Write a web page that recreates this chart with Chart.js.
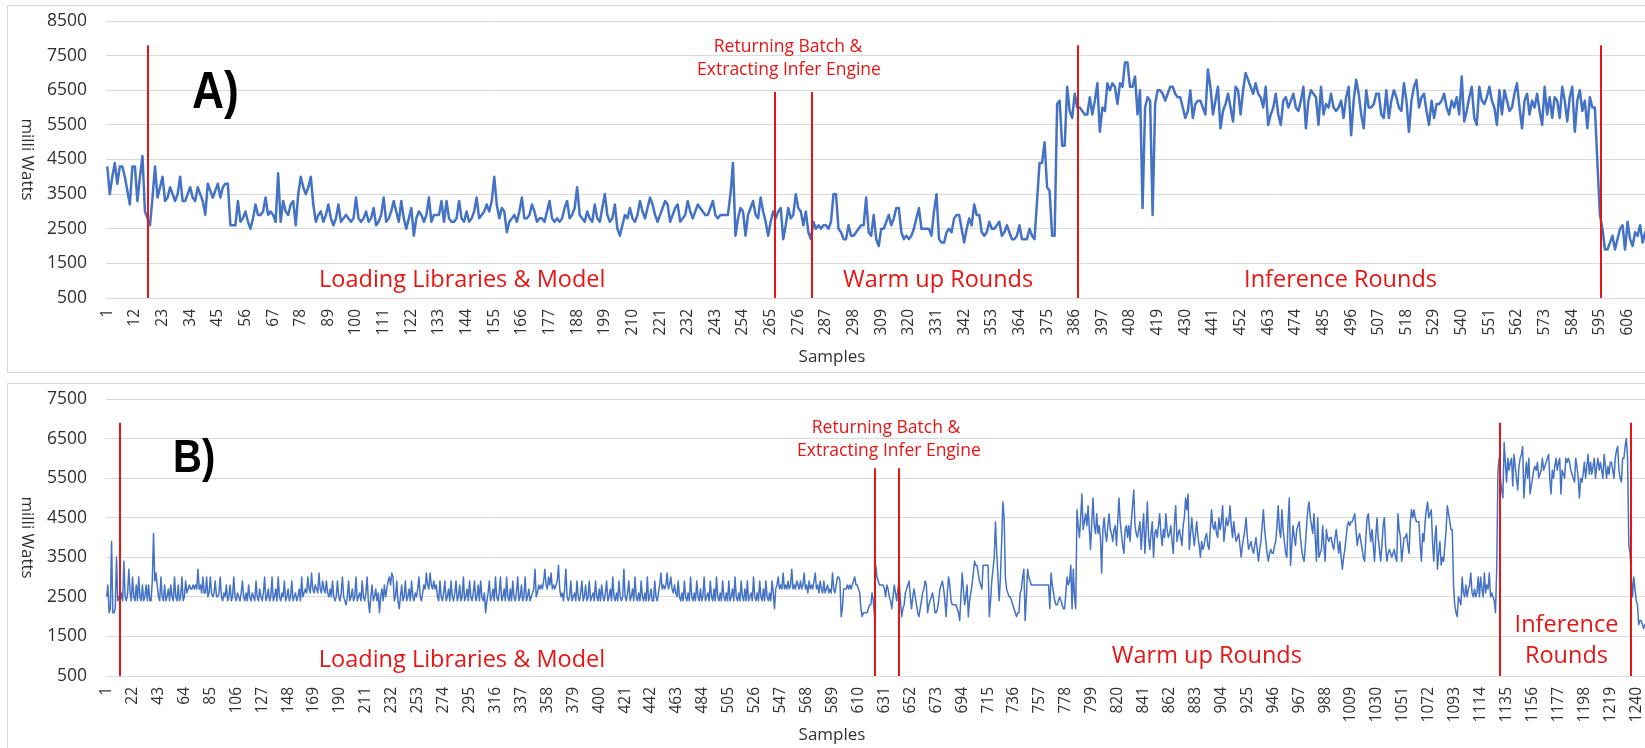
<!DOCTYPE html>
<html>
<head>
<meta charset="utf-8">
<title>Power draw per sample</title>
<script src="https://cdn.jsdelivr.net/npm/chart.js@4.4.1/dist/chart.umd.min.js"></script>
<style>
  html, body { margin: 0; padding: 0; background: #fff; overflow: hidden; }
  body { width: 1645px; height: 748px; position: relative; }
  .panel { position: absolute; left: 7px; width: 1720px; height: 366px; border: 1px solid #d9d9d9; background: #fff; }
  #panelA { top: 5px; }
  #panelB { top: 383px; }
  canvas { display: block; }
</style>
</head>
<body>
<div class="panel" id="panelA"><canvas id="chartA" width="1720" height="366"></canvas></div>
<div class="panel" id="panelB"><canvas id="chartB" width="1720" height="366"></canvas></div>
<script>
// readings in units of 100 mW, one value per sample
const powerA = [
  43,35,40,44,38,43,43,40,36,32,43,43,33,40,46,30,28,26,34,43,
  34,37,40,33,34,37,35,33,35,40,33,33,35,37,34,33,37,35,33,29,
  38,36,34,36,38,34,37,38,38,26,26,26,33,27,28,30,27,25,28,32,
  29,29,30,34,29,30,29,27,41,27,33,30,29,32,33,26,35,40,37,35,
  37,40,32,27,29,30,27,29,32,28,26,28,32,27,28,29,28,27,28,34,
  28,27,28,30,27,28,31,26,27,29,34,27,28,30,33,30,27,33,28,25,
  28,31,23,28,30,29,27,29,34,27,29,29,29,33,27,33,28,27,27,28,
  33,28,27,30,27,28,30,34,28,29,30,32,30,33,40,32,28,31,30,24,
  27,28,29,27,30,34,28,28,29,32,30,27,28,28,27,30,33,28,27,28,
  27,28,31,33,28,29,31,37,29,28,27,30,28,27,32,28,27,31,35,29,
  27,28,32,25,23,26,29,28,31,28,27,29,33,30,28,31,34,32,29,27,
  29,31,33,32,27,29,31,32,27,28,29,33,30,28,30,32,31,30,29,29,
  31,33,29,28,29,29,29,29,35,44,23,28,31,30,23,29,31,33,29,28,
  34,30,27,23,27,30,28,30,31,22,26,31,28,29,35,31,30,26,30,24,
  22,27,25,26,25,26,26,25,27,35,35,25,24,22,22,26,23,23,24,25,
  26,26,34,24,23,29,22,20,25,25,27,29,26,28,31,31,24,22,23,22,
  23,25,28,31,25,25,25,25,23,30,35,22,21,21,24,25,24,28,29,29,
  25,21,25,28,26,32,29,29,24,23,24,27,25,25,26,27,23,24,26,24,
  22,22,23,26,22,22,22,25,23,22,33,44,44,50,37,36,23,23,61,62,
  49,49,66,59,57,64,60,60,59,58,58,63,58,62,67,53,60,59,67,65,
  67,66,61,67,66,73,73,66,66,69,58,65,31,60,63,62,29,61,65,65,
  64,62,64,66,66,64,63,63,60,57,59,65,57,61,62,62,60,58,71,66,
  58,62,66,54,59,61,64,60,56,66,65,58,65,70,68,66,64,67,64,63,
  60,66,55,58,60,64,58,55,62,63,60,62,64,60,59,62,66,54,62,65,
  64,63,55,66,58,61,60,64,60,59,60,62,57,63,66,52,62,68,64,58,
  54,65,60,60,61,64,64,58,57,65,57,62,65,63,60,59,67,62,53,62,
  66,68,60,63,64,59,55,62,57,61,61,62,64,60,58,62,60,63,58,69,
  56,59,63,66,57,55,66,62,61,63,66,62,60,55,65,58,65,62,59,60,
  64,67,60,54,62,64,58,62,60,64,59,55,66,58,63,57,63,62,57,66,
  62,56,63,66,53,62,65,59,62,54,63,60,60,44,29,25,19,19,21,23,
  19,22,25,26,19,27,22,20,24,23,26,21,24,22,25,21,24,22,20,23
];

const powerB = [
  25,28,21,22,39,21,21,22,35,24,25,24,26,24,34,25,24,26,32,26,
  24,30,25,24,28,24,30,25,24,28,24,25,28,24,28,24,24,29,41,29,
  31,28,25,24,30,25,24,28,24,25,27,24,28,25,24,30,25,24,28,24,
  25,30,24,25,29,26,27,28,27,27,28,27,28,27,32,27,28,26,30,26,
  26,30,25,26,30,26,25,26,29,25,25,26,30,25,24,26,25,28,24,25,
  28,24,25,30,25,24,26,25,24,26,29,25,24,26,24,28,25,24,26,25,
  24,29,25,24,27,25,24,26,30,24,25,27,24,25,30,24,25,27,24,30,
  25,24,26,25,29,24,25,27,24,25,29,24,25,26,24,25,27,24,30,25,
  26,27,26,30,27,26,31,27,26,28,27,26,31,27,26,29,27,26,29,26,
  25,27,25,29,25,24,25,29,25,24,26,30,25,24,23,25,29,24,25,27,
  24,25,30,24,25,26,24,29,25,24,26,30,24,21,25,28,24,25,27,24,
  26,21,25,27,24,28,25,27,29,30,28,31,30,24,25,29,24,22,25,28,
  24,25,29,24,25,27,24,29,25,24,26,25,27,30,25,24,26,28,27,31,
  28,27,31,28,27,29,27,28,25,24,29,25,24,26,29,24,25,27,24,29,
  25,24,26,29,24,25,28,24,25,30,24,25,27,24,29,25,24,26,29,24,
  25,28,24,29,25,24,26,21,24,26,29,24,25,27,24,30,25,24,26,30,
  24,25,27,24,30,25,24,27,24,29,25,24,26,30,24,25,28,24,25,30,
  24,25,27,24,25,26,27,32,25,26,28,27,28,27,29,32,28,27,30,28,
  31,27,28,27,28,29,33,27,25,26,24,27,32,25,24,25,29,24,25,26,
  24,29,25,24,26,29,24,25,28,24,25,29,24,25,26,24,29,25,24,27,
  24,28,25,24,26,29,24,25,27,24,30,25,24,26,24,29,25,24,25,32,
  25,24,26,29,24,25,27,24,30,25,24,26,24,29,25,24,26,24,30,24,
  25,27,24,24,29,25,24,26,28,31,27,28,27,28,31,27,28,30,27,26,
  28,26,25,29,25,24,26,24,29,25,24,26,24,30,25,24,26,24,29,25,
  24,27,24,25,30,24,25,26,24,29,25,24,27,24,30,25,24,26,24,29,
  25,24,26,24,29,24,25,27,24,30,25,24,26,24,29,25,24,27,24,29,
  24,25,26,24,30,25,24,26,24,29,25,24,27,24,29,25,24,26,24,29,
  26,22,27,28,30,27,28,27,31,27,28,27,29,27,28,32,27,28,27,29,
  28,27,29,27,28,31,27,28,26,29,27,28,27,29,31,27,28,26,29,27,
  26,29,26,27,28,26,27,26,31,27,26,28,30,30,29,20,22,27,27,27,
  28,27,28,27,28,29,30,28,28,27,26,22,20,21,21,21,21,22,23,23,
  26,24,20,33,30,29,28,28,28,28,27,25,28,27,25,24,22,25,28,26,
  24,27,29,24,20,22,23,26,27,28,29,25,22,25,27,25,23,21,20,22,
  24,26,27,29,28,21,23,24,25,26,24,21,21,22,24,27,28,29,27,24,
  20,26,30,28,24,23,23,23,23,22,21,19,25,31,27,23,25,28,20,24,
  26,28,31,34,33,33,31,29,28,27,33,33,33,33,33,20,24,29,32,35,
  44,36,30,24,30,39,49,45,30,27,26,25,25,24,23,22,21,20,21,21,
  26,27,30,32,19,25,32,30,29,28,28,28,28,28,28,28,28,28,28,28,
  28,28,28,28,22,31,28,26,24,23,23,24,25,24,23,22,22,26,30,28,
  29,33,22,32,25,22,47,43,40,45,51,42,44,46,43,48,42,37,44,50,
  43,41,46,41,43,40,31,42,45,41,39,43,46,42,41,39,42,43,38,44,
  50,44,41,38,36,42,43,40,43,39,44,48,52,43,41,40,42,44,37,42,
  46,36,42,49,40,37,41,44,35,41,42,40,43,46,41,38,42,40,46,42,
  40,41,43,39,36,44,48,39,41,42,40,38,43,45,50,47,51,37,41,45,
  41,38,41,44,40,38,35,39,37,38,40,41,38,37,42,47,43,42,44,41,
  40,45,42,44,48,39,42,45,43,44,48,43,40,44,41,39,40,41,38,35,
  38,40,42,45,40,37,38,39,37,36,38,40,37,34,37,39,43,47,42,39,
  36,34,36,37,36,36,38,39,43,48,42,40,47,42,39,36,35,44,50,33,
  38,43,40,38,42,43,44,40,37,35,34,38,43,47,49,45,43,41,46,40,
  34,45,35,36,37,43,38,34,42,40,39,40,40,38,37,40,42,39,36,39,
  35,32,35,37,40,43,44,43,44,44,45,46,42,38,40,41,39,37,35,34,
  40,45,46,42,39,42,38,34,40,45,40,37,34,38,43,45,38,34,36,37,
  36,35,36,37,35,34,46,42,40,34,37,40,40,41,38,36,44,47,45,47,
  45,44,44,44,38,34,41,39,44,47,49,45,46,47,39,34,40,43,32,36,
  39,33,35,34,38,42,48,46,44,42,42,28,23,21,20,25,24,23,30,26,
  25,28,25,27,28,31,26,25,27,25,26,30,25,30,27,25,31,26,28,27,
  31,25,26,25,24,21,32,57,60,55,52,50,64,59,54,60,57,59,60,53,
  61,58,55,52,58,60,61,63,50,55,59,55,60,51,53,55,57,58,57,59,
  55,56,57,60,57,58,59,60,61,55,51,57,55,58,60,57,59,60,51,57,
  56,55,60,59,60,59,57,56,55,54,60,58,55,50,55,54,56,59,55,58,
  61,56,59,56,58,60,55,58,60,57,59,57,55,61,58,55,58,56,59,59,
  57,55,60,62,63,57,55,54,60,60,63,65,60,38,36,30,25,30,27,24,
  23,18,19,19,18,17,18,17,18,17,17,18,17,17,18,17,18,17,17,18,
  17,18
];

// sample numbers on the category axis, label shown every n-th sample
const samplesA = powerA.map((_, i) => i + 1);
const samplesB = powerB.map((_, i) => i + 1);
const labelEveryA = 11;
const labelEveryB = 21;

// y axis ranges (mW)
const yMinA = 500, yMaxA = 8500;
const yMinB = 500, yMaxB = 7500;
const yStep = 1000;

// phase boundaries: sample position and where the red marker starts (mW)
const phaseAtA = [17.2, 266.7, 281.4, 387.3, 595.4];
const phaseTopA = [7800, 6450, 6450, 7800, 7800];
const phaseAtB = [11.9, 623.3, 642.8, 1129.6, 1235.5];
const phaseTopB = [6900, 5750, 5750, 6900, 6900];

const BLUE = '#4472c4';
const RED = '#e81515';
const GRID = '#d9d9d9';
const TEXT = '#303030';
const BIG = "23.5px 'Open Sans'";
const SMALL = "17.5px 'Open Sans'";
const Y_TITLE_LEN = 82;   // px length of the rotated y title

// text anchored at (sample, mW)
const notesA = [
  { text: 'A)', s: 34.7, v: 5987, font: "bold 51px 'Liberation Sans'", color: '#000', squeeze: 0.87 },
  { text: 'Loading Libraries & Model', s: 85.3, v: 818, font: BIG },
  { text: 'Returning Batch &', s: 271.9, v: 7605, font: SMALL, align: 'center' },
  { text: 'Extracting Infer Engine', s: 272.3, v: 6940, font: SMALL, align: 'center' },
  { text: 'Warm up Rounds', s: 293.8, v: 818, font: BIG },
  { text: 'Inference Rounds', s: 453.4, v: 818, font: BIG }
];
const notesB = [
  { text: 'B)', s: 54.8, v: 5661, font: "bold 46px 'Liberation Sans'", color: '#000', squeeze: 0.87 },
  { text: 'Loading Libraries & Model', s: 172.9, v: 728, font: BIG },
  { text: 'Returning Batch &', s: 632.3, v: 6647, font: SMALL, align: 'center' },
  { text: 'Extracting Infer Engine', s: 634.7, v: 6065, font: SMALL, align: 'center' },
  { text: 'Warm up Rounds', s: 815.2, v: 829, font: BIG },
  { text: 'Inference', s: 1183.5, v: 1613, font: BIG, align: 'center' },
  { text: 'Rounds', s: 1183.5, v: 829, font: BIG, align: 'center' }
];

Chart.defaults.font.family = "'Open Sans', sans-serif";
Chart.defaults.color = TEXT;

function phaseOverlay(lines, tops, notes) {
  return {
    id: 'phaseOverlay',
    afterDatasetsDraw(chart) {
      const { ctx, chartArea } = chart;
      const xs = chart.scales.x, ys = chart.scales.y;
      ctx.save();

      ctx.strokeStyle = RED;
      ctx.lineWidth = 2;
      lines.forEach((s, i) => {
        const px = Math.round(xs.getPixelForValue(s - 1));
        ctx.beginPath();
        ctx.moveTo(px, ys.getPixelForValue(tops[i]));
        ctx.lineTo(px, chartArea.bottom);
        ctx.stroke();
      });

      notes.forEach(n => {
        ctx.save();
        ctx.font = n.font;
        ctx.fillStyle = n.color || RED;
        ctx.textAlign = n.align || 'left';
        ctx.textBaseline = 'alphabetic';
        ctx.translate(xs.getPixelForValue(n.s - 1), ys.getPixelForValue(n.v));
        ctx.scale(n.squeeze || 1, 1);
        ctx.fillText(n.text, 0, 0);
        ctx.restore();
      });

      // axis titles (y title reads top to bottom, like the original)
      ctx.fillStyle = TEXT;
      ctx.textAlign = 'center';
      ctx.textBaseline = 'middle';
      ctx.font = "17px 'Open Sans'";
      ctx.fillText('Samples', 824, 351);
      ctx.translate(19, (chartArea.top + chartArea.bottom) / 2);
      ctx.rotate(Math.PI / 2);
      const w = ctx.measureText('milli Watts').width;
      ctx.scale(Y_TITLE_LEN / w, 1);
      ctx.fillText('milli Watts', 0, 0);
      ctx.restore();
    }
  };
}

function drawPanel(id, values, samples, every, yMin, yMax, width, overlay) {
  return new Chart(document.getElementById(id), {
    type: 'line',
    data: {
      labels: samples,
      datasets: [{
        data: values.map(v => v * 100),
        borderColor: BLUE,
        borderWidth: width,
        borderJoinStyle: 'round',
        pointRadius: 0,
        tension: 0,
        fill: false
      }]
    },
    options: {
      responsive: false,
      animation: false,
      events: [],
      layout: { padding: { top: 15, right: 64, bottom: 0, left: 0 } },
      plugins: { legend: { display: false }, tooltip: { enabled: false } },
      scales: {
        x: {
          type: 'category',
          offset: true,
          grid: { display: false, drawTicks: false },
          border: { display: false },
          ticks: {
            autoSkip: false,
            minRotation: 90,
            maxRotation: 90,
            padding: 11,
            color: TEXT,
            font: { size: 15.5 },
            callback: (v, i) => (i % every === 0 ? String(samples[i]) : '')
          },
          afterFit: axis => { axis.height = 74; }
        },
        y: {
          min: yMin,
          max: yMax,
          grid: { color: GRID, lineWidth: 1, drawTicks: false },
          border: { display: false },
          ticks: {
            stepSize: yStep,
            padding: 19,
            color: TEXT,
            font: { size: 17.5 },
            callback: v => String(v)
          },
          afterFit: axis => {
            axis.width = 98;
            // keep the tick label padding from pushing the plot down
            axis.paddingTop = 0;
            axis.paddingBottom = 0;
          }
        }
      }
    },
    plugins: [overlay]
  });
}

drawPanel('chartA', powerA, samplesA, labelEveryA, yMinA, yMaxA, 2.5,
  phaseOverlay(phaseAtA, phaseTopA, notesA));
drawPanel('chartB', powerB, samplesB, labelEveryB, yMinB, yMaxB, 1.5,
  phaseOverlay(phaseAtB, phaseTopB, notesB));
</script>
</body>
</html>
